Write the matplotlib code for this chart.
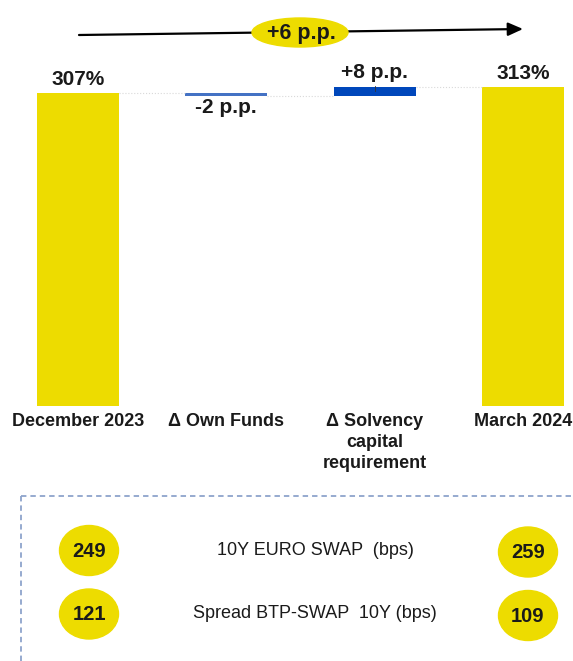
import matplotlib
matplotlib.use("Agg")
import matplotlib.pyplot as plt
from matplotlib.patches import Ellipse, FancyArrowPatch

plt.rcParams['font.family'] = ['Liberation Sans', 'DejaVu Sans']

# Solvency ratio bridge
categories = ["December 2023", "\u0394 Own Funds", "\u0394 Solvency\ncapital\nrequirement", "March 2024"]
start_ratio = 307
deltas = [-2, 8]
end_ratio = 313
delta_labels = ["-2 p.p.", "+8 p.p."]
total_change_label = "+6 p.p."

# Market indicators
indicators = ["10Y EURO SWAP  (bps)", "Spread BTP-SWAP  10Y (bps)"]
dec_values = [249, 121]
mar_values = [259, 109]

YELLOW = "#EDDC00"
BLUE_DARK = "#0047BB"
BLUE_LIGHT = "#4472C4"
BORDER = "#8EA4CC"

W, H = 573, 661
fig = plt.figure(figsize=(W / 100, H / 100), dpi=100)

# Bar axes: baseline 406 px from the top, 1.018 px per percentage point
base_px = 406
scale = 1.018
ax = fig.add_axes([0, (H - base_px) / H, 1, base_px / H])
ax.set_xlim(-0.526, 3.338)
ax.set_ylim(0, base_px / scale)
ax.axis("off")

bw = 0.553
ax.bar(0, start_ratio, width=bw, color=YELLOW)
ax.bar(3, end_ratio, width=bw, color=YELLOW)

level = start_ratio
delta_colors = [BLUE_LIGHT, BLUE_DARK]
for i, (d, c, lab) in enumerate(zip(deltas, delta_colors, delta_labels), start=1):
    bottom = min(level, level + d)
    ax.bar(i, abs(d), bottom=bottom, width=bw, color=c)
    # dotted connector from the previous level
    ax.plot([i - 1 + bw / 2, i - bw / 2], [level, level], color="#d9d9d9", lw=0.8, ls=":")
    if d < 0:
        ax.annotate(lab, (i, bottom), xytext=(0, -2), textcoords="offset points",
                    ha="center", va="top", fontsize=15, fontweight="bold", color="#1a1a1a")
    else:
        ax.annotate(lab, (i, bottom + d), xytext=(0, 4), textcoords="offset points",
                    ha="center", va="bottom", fontsize=15, fontweight="bold", color="#1a1a1a")
        ax.plot([i, i], [bottom + d / 2, bottom + d + 1.5], color="#333333", lw=0.6)
    level += d
ax.plot([2 + bw / 2, 3 - bw / 2], [level, level], color="#d9d9d9", lw=0.8, ls=":")

for x, v in [(0, start_ratio), (3, end_ratio)]:
    ax.annotate(f"{v}%", (x, v), xytext=(0, 3), textcoords="offset points",
                ha="center", va="bottom", fontsize=15, fontweight="bold", color="#1a1a1a")

for i, c in enumerate(categories):
    ax.annotate(c, (i, 0), xytext=(0, -5), textcoords="offset points",
                ha="center", va="top", fontsize=13, fontweight="bold",
                linespacing=1.3, color="#1a1a1a")

# Overlay in pixel coordinates for the arrow and the indicator panel
ov = fig.add_axes([0, 0, 1, 1], facecolor="none")
ov.set_xlim(0, W)
ov.set_ylim(H, 0)
ov.axis("off")

arrow = FancyArrowPatch((79, 35), (523, 29), arrowstyle="-|>,head_length=9,head_width=4",
                        color="black", lw=1.6, mutation_scale=1, shrinkA=0, shrinkB=0)
ov.add_patch(arrow)
ov.add_patch(Ellipse((300, 32.5), 96, 29, color=YELLOW, zorder=3))
ov.text(301, 33, total_change_label, ha="center", va="center", fontsize=15.5,
        fontweight="bold", color="#1a1a1a", zorder=4)

# Dashed panel border
ov.plot([21, W + 5], [496, 496], color=BORDER, lw=1.3, ls=(0, (3, 2.2)))
ov.plot([21, 21], [496, H + 5], color=BORDER, lw=1.3, ls=(0, (3, 2.2)))

rows_y = [550.5, 614]
for y, name, dv, mv in zip(rows_y, indicators, dec_values, mar_values):
    ov.add_patch(Ellipse((89, y), 59, 50, color=YELLOW))
    ov.add_patch(Ellipse((528, y + 1.5), 59, 50, color=YELLOW))
    ov.text(89, y + 1, str(dv), ha="center", va="center", fontsize=14.5, fontweight="bold",
            color="#1a1a1a")
    ov.text(528, y + 2.5, str(mv), ha="center", va="center", fontsize=14.5, fontweight="bold",
            color="#1a1a1a")
    ov.text(315, y, name, ha="center", va="center", fontsize=13, color="#1a1a1a")

fig.savefig("out.png", dpi=100)
